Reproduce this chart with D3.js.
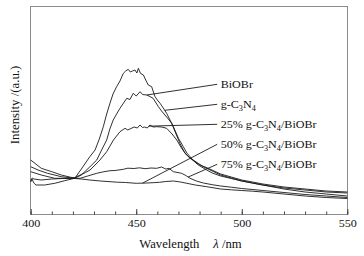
<!DOCTYPE html>
<html>
<head>
<meta charset="utf-8">
<script src="https://cdn.jsdelivr.net/npm/d3@7/dist/d3.min.js"></script>
<style>
  body { margin: 0; background: #fff; }
  text { font-family: "Liberation Serif", "Times New Roman", serif; fill: #111; }
</style>
</head>
<body>
<div id="chart"></div>
<script>
// wavelength (nm) / intensity (a.u.)
const xTicks = [400, 450, 500, 550]

const gC3N4 = [[400,54],[402,50.7],[405,45.7],[410,42.3],[414.5,39],[419,36.7],[421,36],[424,45],[428,57.3],
  [430.5,64],[432.5,75],[434.4,87.3],[436,100],[437.6,111],[439,120],[440.7,127.3],[442.3,133],[443.9,140.7],
  [445,143],[446.2,144.7],[447.2,142],[448.2,143],[449.4,144],[450.3,141],[451,145.7],[452,140.7],[453.4,139],
  [454.5,134],[455.7,129],[457.3,127.3],[458.9,117.3],[460,114],[461.3,110.7],[462.8,106],[464.4,100.7],
  [466,94],[467.6,87.3],[470,75.7],[472.3,67.3],[474,61],[475.5,57.3],[477.5,52.5],[479.4,49],[483.4,44],
  [486,41],[490,38],[495,35.5],[500,33],[505,31],[510,29],[520,26],[530,24],[540,22],[550,21]]

const biobr = [[400,47.3],[403.5,44],[408,40.7],[414.5,37.3],[420.8,35.7],[424,39],[428.1,47.3],[431.3,54],
  [433.6,64],[436,74],[437.5,85],[439.1,94],[440.7,100],[442.3,105.7],[444,111],[445.5,115.7],[447,114.5],
  [448.6,120.7],[450,118],[451.8,122.3],[453,119.5],[455,119],[456.5,117.5],[458,115.7],[460.5,107.3],
  [462,103],[463.6,99],[465.2,95],[466.8,90.7],[468.4,82.3],[470.7,70.7],[473.1,60.7],[475,57],[477,54],
  [479.5,50.5],[481.8,47.3],[486,43],[490,39],[495,36],[500,33],[505,31],[510,29],[520,25],[530,22],
  [540,20],[550,18]]

const pct25 = [[400,42.3],[405,39],[411.4,35.7],[417.7,35.7],[420.5,36],[423.4,39],[426,41.5],[428.1,44],
  [430.5,49],[432.8,54],[436,62.3],[439.2,74],[442.3,82.3],[444.7,85.7],[446,84],[447,85],[449,87],[450.5,86],
  [451.8,89],[453,86.5],[454,87],[455.2,86],[456.5,89],[458,87],[459.7,87.3],[462,87],[464.4,85.7],[467,80],
  [469.2,74],[471.5,65.7],[473.5,60],[475.5,55.7],[478,52],[480.2,49],[484.1,45.7],[490,40],[495,37],
  [500,34],[505,32],[510,30],[520,27],[530,25],[540,23],[550,22]]

const pct50 = [[400,33],[400.7,36],[401.5,35],[405,34],[410,35],[415,35.5],[420,35.7],[424,35],[428,34],
  [433,33],[437.6,32.3],[441,31.8],[445,31.5],[450,30.7],[455,31],[458,31.3],[461,31.7],[464,32.5],[467.6,33],
  [471,32],[474,30.7],[478,29],[483.4,27.3],[490,25],[495,24.2],[500,23.5],[505,22.8],[510,22],[520,20],
  [530,18],[540,16.5],[550,15.5]]

const pct75 = [[400,32],[400.6,35],[401.5,31],[402.5,29],[406.6,29],[411.4,30.7],[416.1,33.3],[420.8,35.7],
  [423.4,35.7],[427,38],[431.3,40.7],[434,42],[437.6,43.3],[440,43.5],[443.9,44.7],[446,45.8],[449,45.5],
  [451.5,46.2],[454.2,45.3],[457,46],[459.7,45.7],[462,47],[464,45],[465.5,45.6],[467.6,42.3],[471.5,40.7],
  [473.5,38.5],[475.5,35.7],[478.5,33],[481.8,31],[486,29.3],[490,28],[495,26.8],[500,25.5],[510,23.5],
  [520,21.5],[530,19.5],[540,18],[550,16.5]]

// label text, series it points at, wavelength where the leader touches the curve
const labelNames = ['BiOBr', 'g-C3N4', '25% g-C3N4/BiOBr', '50% g-C3N4/BiOBr', '75% g-C3N4/BiOBr']
const labelSeries = [biobr, gC3N4, pct25, pct50, pct75]
const labelAt = [455, 463.5, 456, 453, 474.6]

const width = 364
const height = 256

const svg = d3.create('svg')
    .attr('width', width)
    .attr('height', height)
    .attr('viewBox', [0, 0, width, height])

const x = d3.scaleLinear().domain([400, 550]).range([30.7, 347.3])
const y = d3.scaleLinear().domain([0, 207.5]).range([214, 6.5])

const stretch = 'scale(1.1,1)'

/* frame */
svg.append('rect')
    .attr('x', 30.5).attr('y', 6.5)
    .attr('width', 317).attr('height', 208)
    .attr('fill', 'none')
    .attr('stroke', '#8c8c8c')
    .attr('stroke-width', 1)

/* x axis: minor + major ticks inside */
const minorAxis = svg.append('g')
    .attr('transform', 'translate(0,214.5)')
    .call(d3.axisBottom(x).ticks(15).tickSize(-3).tickFormat(''))
minorAxis.select('.domain').remove()
minorAxis.selectAll('line').attr('stroke', '#444')

const majorAxis = svg.append('g')
    .attr('transform', 'translate(0,214.5)')
    .call(d3.axisBottom(x).tickValues(xTicks).tickSize(-5.5).tickPadding(5))
majorAxis.select('.domain').remove()
majorAxis.selectAll('line').attr('stroke', '#444')
majorAxis.selectAll('text')
    .attr('font-size', 11)
    .attr('font-family', '"Liberation Serif", serif')
    .attr('fill', '#111')
    .attr('transform', stretch)

/* axis titles */
const xTitle = svg.append('text')
    .attr('transform', `translate(139.3,248.3) ${stretch}`)
    .attr('font-size', 11.5)
xTitle.append('tspan').text('Wavelength')
xTitle.append('tspan').attr('x', (213.3 - 139.3) / 1.1).attr('font-style', 'italic').text('λ')
xTitle.append('tspan').text(' /nm')

svg.append('text')
    .attr('transform', 'translate(19,105) rotate(-90)')
    .attr('text-anchor', 'middle')
    .attr('font-size', 12.8)
    .text('Intensity /(a.u.)')

/* curves */
const line = d3.line()
    .x(d => x(d[0]))
    .y(d => y(d[1]))

svg.append('g')
    .selectAll('path')
    .data([pct50, pct75, pct25, biobr, gC3N4])
    .join('path')
    .attr('d', line)
    .attr('fill', 'none')
    .attr('stroke', '#1a1a1a')
    .attr('stroke-width', 0.9)
    .attr('stroke-linejoin', 'round')

/* labels with leader lines */
const valueAt = (series, wl) => {
    const i = d3.bisector(d => d[0]).left(series, wl)
    const a = series[Math.max(0, i - 1)], b = series[Math.min(series.length - 1, i)]
    if (a[0] === b[0]) return a[1]
    return a[1] + (b[1] - a[1]) * (wl - a[0]) / (b[0] - a[0])
}

const labelX = 220.7
const labels = svg.append('g')
labelNames.forEach((name, i) => {
    const baseY = 88.3 + i * 20
    const wl = labelAt[i]
    labels.append('line')
        .attr('x1', labelX - 3.5).attr('y1', baseY - 4)
        .attr('x2', x(wl)).attr('y2', y(valueAt(labelSeries[i], wl)))
        .attr('stroke', '#1a1a1a')
        .attr('stroke-width', 0.9)

    const t = labels.append('text')
        .attr('transform', `translate(${labelX},${baseY}) ${stretch}`)
        .attr('font-size', 11)
    // split on C3N4 to draw the subscripts
    const parts = name.split('C3N4')
    t.append('tspan').text(parts[0])
    if (parts.length > 1) {
        t.append('tspan').text('C')
        t.append('tspan').attr('font-size', 7.5).attr('dy', 2.5).text('3')
        t.append('tspan').attr('dy', -2.5).text('N')
        t.append('tspan').attr('font-size', 7.5).attr('dy', 2.5).text('4')
        t.append('tspan').attr('dy', -2.5).text(parts[1])
    }
})

document.getElementById('chart').appendChild(svg.node())
</script>
</body>
</html>
